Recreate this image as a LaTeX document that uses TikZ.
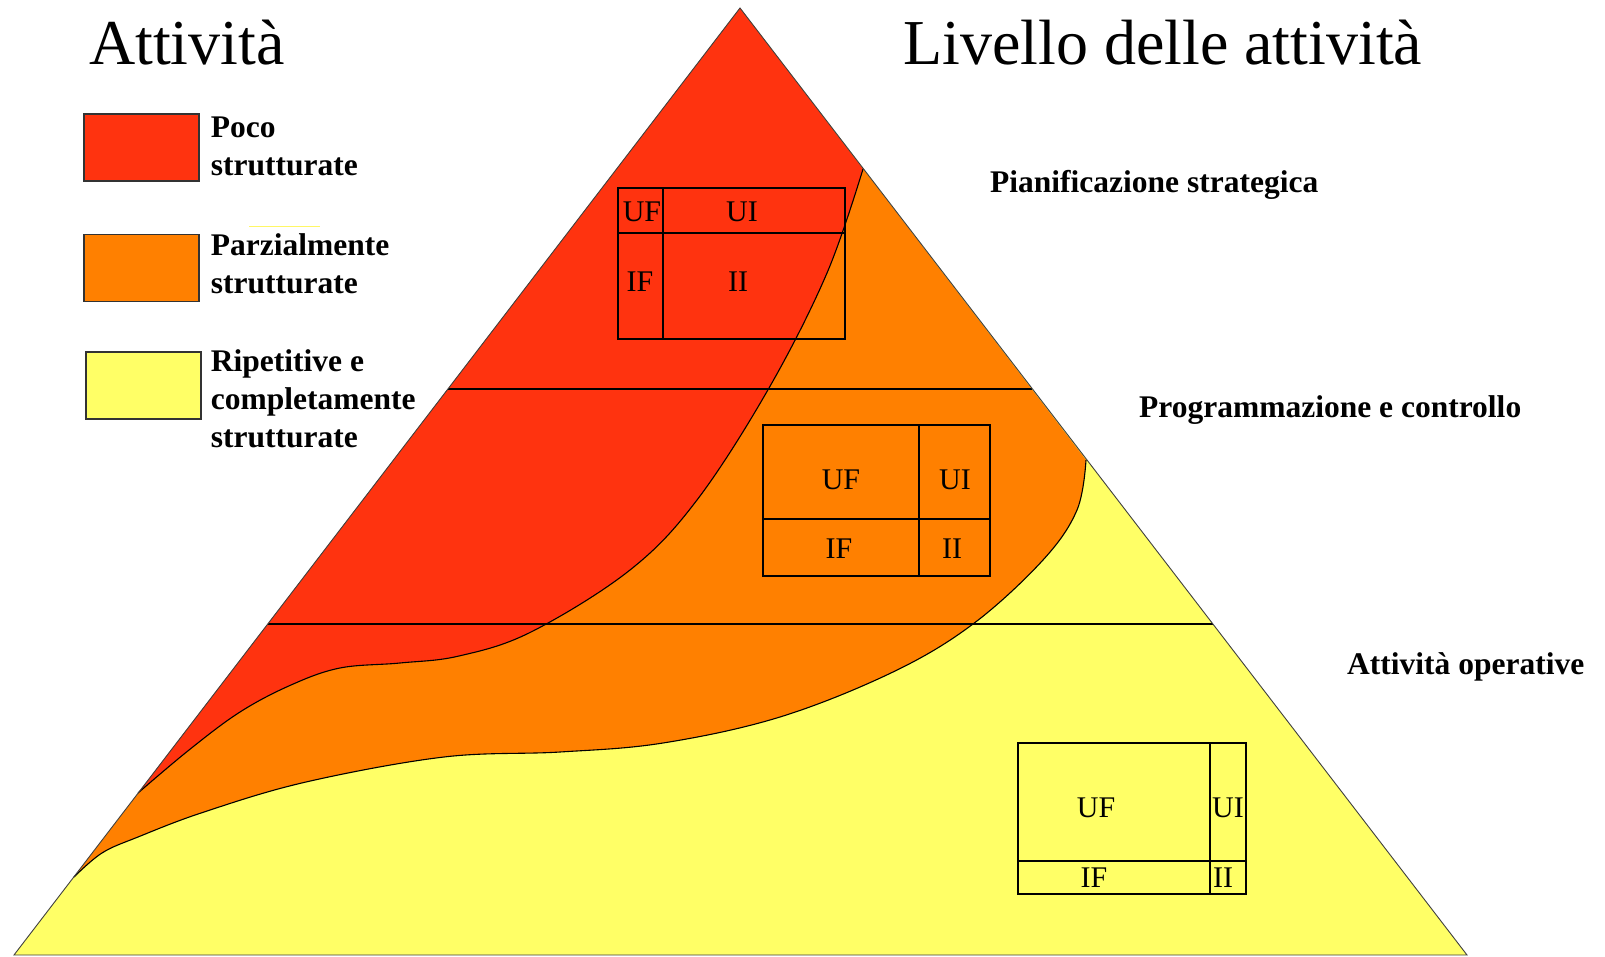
\documentclass[tikz,border=0pt]{standalone}
\usepackage{fontspec}
\setmainfont{Liberation Serif}
\usetikzlibrary{positioning,calc}
\definecolor{redact}{RGB}{255,51,15}
\definecolor{orangeact}{RGB}{255,128,0}
\definecolor{yellowact}{RGB}{255,255,102}
\tikzset{
    %outline of the pyramid and the level separators
    rim/.style={draw=black!75, line width=0.9pt},
    levelline/.style={draw=black, line width=1.6pt},
    border/.style={draw=black, line width=1.1pt},
    boxline/.style={draw=black, line width=2pt},
    legbox/.style={
      rectangle,
      draw=black!80, line width=1.5pt,
      minimum width=115pt,
      minimum height=67pt,
      inner sep=0pt},
    legtext/.style={
      align=left,
      inner sep=0pt,
      font=\fontsize{31.5}{38}\selectfont\bfseries},
    tier/.style={
      anchor=base west,
      inner sep=0pt,
      font=\fontsize{31.5}{38}\selectfont\bfseries},
    heading/.style={
      anchor=base west,
      inner sep=0pt,
      font=\fontsize{64}{70}\selectfont},
    celltext/.style={
      anchor=base,
      inner sep=0pt,
      font=\fontsize{30}{36}\selectfont},
    %boundary between poco and parzialmente strutturate
    redline/.style={insert path={-- plot[smooth, tension=0.6] coordinates {
      (138,793) (189,750) (240,712) (291,685) (340,668) (400,663)
      (459,656) (531,632) (630,570) (697,500) (769,388) (827,273)
      (863,169)}}},
    %boundary between parzialmente strutturate and ripetitive
    orangeline/.style={insert path={-- plot[smooth, tension=0.6] coordinates {
      (74,877) (102,853) (138,837) (204,812) (306,782) (444,757)
      (560,752) (663,743) (780,717) (893,672) (973,624) (1043,560)
      (1077,510) (1086,460)}}},
}
\begin{document}
\begin{tikzpicture}[x=1pt, y=-1pt]
    \useasboundingbox (0,0) rectangle (1605,957);
    % pyramid
    \coordinate (top) at (740,8);
    \coordinate (bl) at (14,955);
    \coordinate (br) at (1467,955);
    \coordinate (rs) at (138,793);
    \coordinate (os) at (74,877);
    \fill [yellowact] (top) -- (bl) -- (br) -- cycle;
    \fill [orangeact] (top) -- (os) [orangeline] -- cycle;
    \fill [redact] (top) -- (rs) [redline] -- cycle;
    \draw [border] (os) [orangeline];
    \draw [border] (rs) [redline];
    % levels
    \coordinate (s1l) at ($(top)!0.4023!(bl)$);
    \coordinate (s1r) at ($(top)!0.4023!(br)$);
    \coordinate (s2l) at ($(top)!0.6505!(bl)$);
    \coordinate (s2r) at ($(top)!0.6505!(br)$);
    \draw [levelline] (s1l) -- (s1r);
    \draw [levelline] (s2l) -- (s2r);
    \draw [rim] (top) -- (bl) -- (br) -- cycle;

    % information boxes
    \draw [boxline] (618,188) rectangle (845,339);
    \draw [boxline] (663,188) -- (663,339);
    \draw [boxline] (618,233) -- (845,233);
    \node (uf1) [celltext] at (642,222) {UF};
    \node (ui1) [celltext] at (742,222) {UI};
    \node (if1) [celltext] at (640,292) {IF};
    \node (ii1) [celltext] at (738,292) {II};

    \draw [boxline] (763,425) rectangle (990,576);
    \draw [boxline] (919,425) -- (919,576);
    \draw [boxline] (763,519) -- (990,519);
    \node (uf2) [celltext] at (841,489) {UF};
    \node (ui2) [celltext] at (955,489) {UI};
    \node (if2) [celltext] at (839,558) {IF};
    \node (ii2) [celltext] at (952,558) {II};

    \draw [boxline] (1018,743) rectangle (1246,894);
    \draw [boxline] (1210,743) -- (1210,894);
    \draw [boxline] (1018,861) -- (1246,861);
    \node (uf3) [celltext] at (1096,817) {UF};
    \node (ui3) [celltext] at (1228,817) {UI};
    \node (if3) [celltext] at (1094,887) {IF};
    \node (ii3) [celltext] at (1223,887) {II};

    % titles and level names
    \node (attitle) [heading] at (89,65) {Attività};
    \node (livtitle) [heading] at (903,65) {Livello delle attività};
    \node (pian) [tier] at (990,193) {Pianificazione strategica};
    \node (prog) [tier] at (1139,417) {Programmazione e controllo};
    \node (oper) [tier] at (1347,674) {Attività operative};

    % legend
    \node (poco) [legbox, fill=redact] at (141.5,147.5) {};
    \node (parz) [legbox, fill=orangeact, below=52pt of poco] {};
    \node (ripe) [legbox, fill=yellowact, below=49pt of parz, xshift=2pt] {};
    \node (pocotxt) [legtext, right=11pt of poco.north east, anchor=north west, yshift=-3pt]
          {Poco\\strutturate};
    \node (parztxt) [legtext, right=11pt of parz.north east, anchor=north west, yshift=0pt]
          {Parzialmente\\strutturate};
    \node (ripetxt) [legtext, right=9pt of ripe.north east, anchor=north west, yshift=2pt]
          {Ripetitive e\\completamente\\strutturate};
    \draw [yellow!60, line width=1pt] (249,227) -- (320,227);
\end{tikzpicture}
\end{document}
